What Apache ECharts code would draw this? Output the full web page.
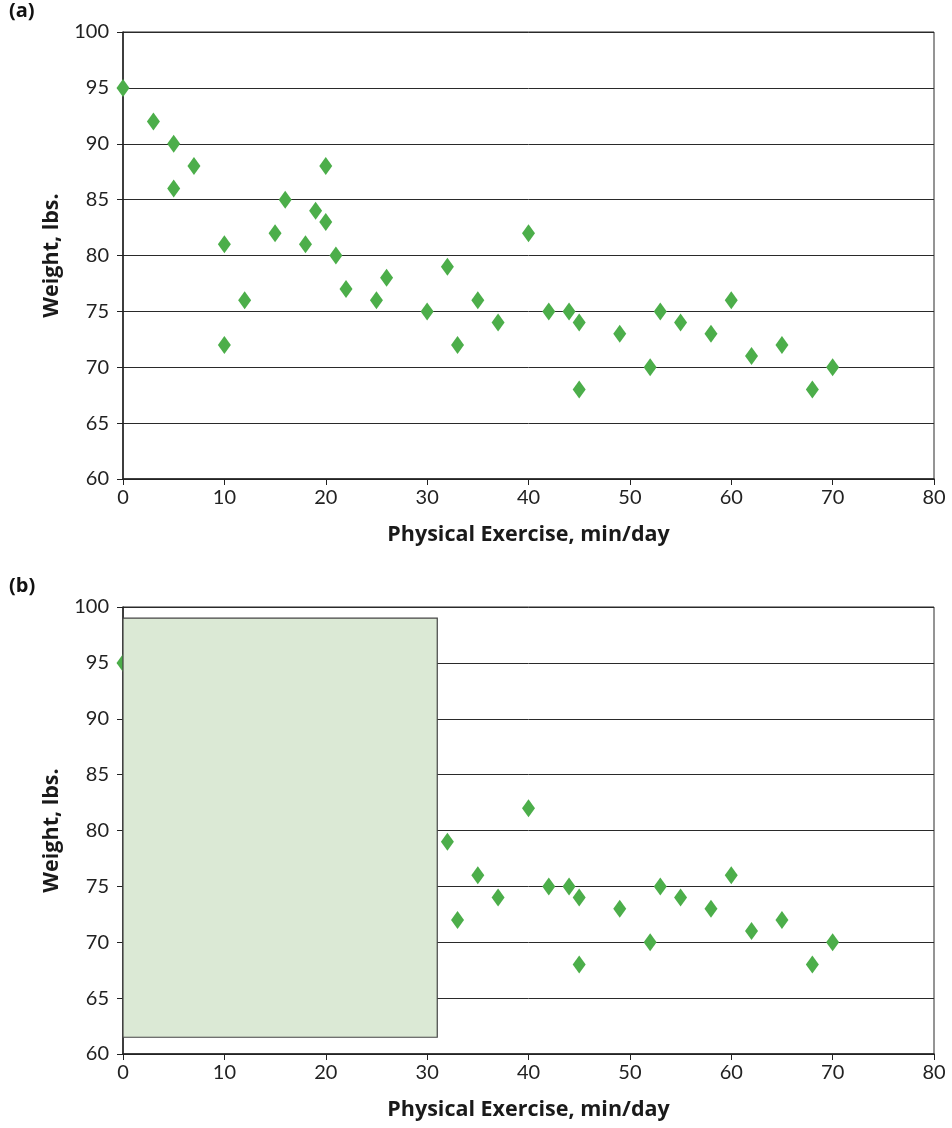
<!DOCTYPE html>
<html>
<head>
<meta charset="utf-8">
<script src="https://cdn.jsdelivr.net/npm/echarts@6/dist/echarts.min.js"></script>
<style>
html,body{margin:0;padding:0;background:#fff;}
#c{width:952px;height:1128px;}
</style>
</head>
<body>
<div id="c"></div>
<script>
const exerciseMin = [0,3,5,5,7,10,10,12,15,16,18,19,20,20,21,22,25,26,30,32,33,35,37,40,42,44,45,45,49,52,53,55,58,60,62,65,68,70];
const weightLbs   = [95,92,90,86,88,81,72,76,82,85,81,84,88,83,80,77,76,78,75,79,72,76,74,82,75,75,74,68,73,70,75,74,73,76,71,72,68,70];
const panelLabels = ['(a)','(b)'];
const xAxisTitle = 'Physical Exercise, min/day';
const yAxisTitle = 'Weight, lbs.';
const xRange = [0, 80, 10];
const yRange = [60, 100, 5];
const coverBox = [[0, 61.5], [31, 99]];

const points = exerciseMin.map((x, i) => [x, weightLbs[i]]);
const chart = echarts.init(document.getElementById('c'), null, {renderer: 'canvas'});

const FONT = 'Lato, "Open Sans", sans-serif';
const BOLD = '"Open Sans", Lato, sans-serif';
const tops = [32, 607];

function mkX(i){
  return {
    type:'value', gridIndex:i, min:xRange[0], max:xRange[1], interval:xRange[2],
    name:xAxisTitle, nameLocation:'middle', nameGap:45,
    nameTextStyle:{fontFamily:BOLD, fontWeight:'bold', fontSize:21.5, color:'#1a1a1a'},
    axisLine:{show:true, onZero:false, lineStyle:{color:'#222', width:1.5}},
    axisTick:{show:true, inside:false, length:6, lineStyle:{color:'#222', width:1}},
    axisLabel:{fontFamily:FONT, fontSize:20, color:'#222', margin:9},
    splitLine:{show:false}
  };
}
function mkY(i){
  return {
    type:'value', gridIndex:i, min:yRange[0], max:yRange[1], interval:yRange[2],
    name:yAxisTitle, nameLocation:'middle', nameGap:60, nameRotate:90,
    nameTextStyle:{fontFamily:BOLD, fontWeight:'bold', fontSize:21.5, color:'#1a1a1a'},
    axisLine:{show:true, onZero:false, lineStyle:{color:'#222', width:1.5}},
    axisTick:{show:true, inside:false, length:6, lineStyle:{color:'#222', width:1}},
    axisLabel:{fontFamily:FONT, fontSize:20, color:'#222', margin:14},
    splitLine:{show:true, lineStyle:{color:'#2a2a2a', width:1}}
  };
}

const option = {
  animation:false,
  backgroundColor:'#fff',
  title: panelLabels.map((t, i) => ({
    text:t, left:4, top: i === 0 ? -4 : 571,
    textStyle:{fontFamily:BOLD, fontWeight:'bold', fontSize:20, color:'#111'}
  })),
  grid: tops.map(t => ({left:123, right:18, top:t, height:447, show:true, borderColor:'#2a2a2a', borderWidth:1, backgroundColor:'transparent'})),
  xAxis:[mkX(0), mkX(1)],
  yAxis:[mkY(0), mkY(1)],
  series:[
    {type:'scatter', xAxisIndex:0, yAxisIndex:0, data:points, symbol:'diamond', symbolSize:[13,18],
     itemStyle:{color:'#4cae4a', opacity:1}, clip:false, z:3},
    {type:'scatter', xAxisIndex:1, yAxisIndex:1, data:points, symbol:'diamond', symbolSize:[13,18],
     itemStyle:{color:'#4cae4a', opacity:1}, clip:false, z:3},
    {type:'scatter', xAxisIndex:1, yAxisIndex:1, data:[], z:10, silent:true,
     markArea:{silent:true, z:10,
       itemStyle:{color:'#dbe9d5', borderColor:'#444', borderWidth:1.2, opacity:1},
       data:[[{coord:coverBox[0]}, {coord:coverBox[1]}]]}}
  ]
};
chart.setOption(option);
</script>
</body>
</html>
